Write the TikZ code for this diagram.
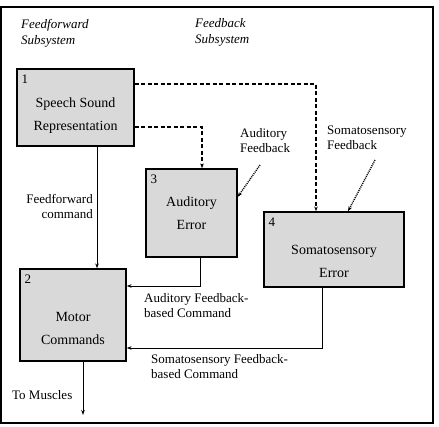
\documentclass[tikz,border=0pt]{standalone}
\usepackage{fontspec}
\setmainfont{Liberation Serif}
\usetikzlibrary{arrows.meta,positioning}

\tikzset{
  stagebox/.style={draw, line width=1.3pt, fill=gray!30, inner sep=0pt},
  boxtext/.style={anchor=center, align=center, inner sep=0pt, font=\fontsize{14}{23}\selectfont},
  numlbl/.style={anchor=north west, inner sep=0pt, xshift=5pt, yshift=-6pt, font=\fontsize{13}{15}\selectfont},
  lbl/.style={inner sep=0pt, font=\fontsize{13}{15}\selectfont},
  head/.style={anchor=west, align=left, inner sep=0pt, font=\fontsize{13}{16}\selectfont\itshape},
  cmdline/.style={line width=0.9pt},
  fbline/.style={line width=1.1pt, dash pattern=on 4pt off 2.5pt},
  inline/.style={line width=1.4pt, dash pattern=on 1pt off 1pt}
}

\begin{document}
\begin{tikzpicture}[x=1pt, y=-1pt, >={Stealth[length=5pt,width=3.5pt]}]
  \useasboundingbox (0,0) rectangle (439,426);
  \draw[line width=1.8pt] (1,7) rectangle (433,423);

  % the four stages
  \node[stagebox, minimum width=117pt, minimum height=77pt,
    label={[numlbl]north west:1},
    label={[boxtext, yshift=-8pt]center:{Speech Sound\\Representation}}] (speech) at (75.5,107.5) {};
  \node[stagebox, minimum width=106pt, minimum height=92pt,
    label={[numlbl]north west:2},
    label={[boxtext, yshift=-13pt]center:{Motor\\Commands}}] (motor) at (73,315) {};
  \node[stagebox, minimum width=91pt, minimum height=88pt,
    label={[numlbl]north west:3},
    label={[boxtext]center:{Auditory\\Error}}] (aud) at (191.5,213) {};
  \node[stagebox, minimum width=140pt, minimum height=75pt,
    label={[numlbl]north west:4},
    label={[boxtext, yshift=-12pt]center:{Somatosensory\\Error}}] (soma) at (334,249.5) {};

  \coordinate (muscles) at (83,415);
  \coordinate (audin) at (260,165);
  \coordinate (somain) at (375,160);

  % headings and labels
  \node[head] (ffsub) at (21,33) {Feedforward\\Subsystem};
  \node[head] (fbsub) at (195,32) {Feedback\\Subsystem};
  \node[lbl, anchor=east, align=right] (ffcmd) at (93,206.5) {Feedforward\\command};
  \node[lbl, anchor=west, align=left] (audcmd) at (144,306) {Auditory Feedback-\\based Command};
  \node[lbl, anchor=west, align=left] (somacmd) at (151,367) {Somatosensory Feedback-\\based Command};
  \node[lbl, anchor=west] (tomus) at (12,395) {To Muscles};
  \node[lbl, anchor=west, align=left] (audfb) at (240,141) {Auditory\\Feedback};
  \node[lbl, anchor=west, align=left] (somafb) at (327,138) {Somatosensory\\Feedback};

  % connectors
  \draw[fbline,->] ([yshift=23.5pt]speech.east) -| ([xshift=-18pt]soma.north);
  \draw[fbline,->] ([yshift=-19.5pt]speech.east) -| ([xshift=10.5pt]aud.north);
  \draw[cmdline,->] ([xshift=21.5pt]speech.south) -- ([xshift=21.5pt]speech.south |- motor.north);
  \draw[cmdline,->] ([xshift=8.5pt]aud.south) |- ([yshift=29pt]motor.east);
  \draw[cmdline,->] ([xshift=-12pt]soma.south) |- ([yshift=-33pt]motor.east);
  \draw[cmdline,->] ([xshift=10pt]motor.south) -- (muscles);
  \draw[inline,->] (audin) -- ([yshift=16pt]aud.east);
  \draw[inline,->] (somain) -- ([xshift=14pt]soma.north);
\end{tikzpicture}
\end{document}
